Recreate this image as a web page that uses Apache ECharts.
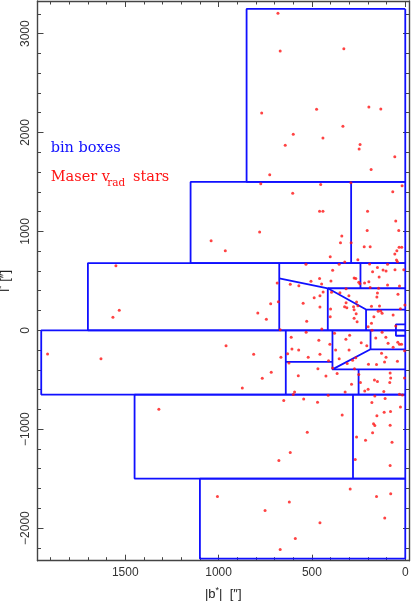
<!DOCTYPE html>
<html>
<head>
<meta charset="utf-8">
<script src="https://cdn.jsdelivr.net/npm/echarts@6/dist/echarts.min.js"></script>
<style>
  html, body { margin: 0; padding: 0; background: #fff; }
  #main { width: 411px; height: 602px; }
</style>
</head>
<body>
<div id="main"></div>
<script>
// maser stars, [|b*|, l*] in arcsec
var maserStars = [
  [682, 3205], [670, 2824], [329, 2848], [769, 2198], [475, 2235], [195, 2259], [131, 2238],
  [334, 2064], [600, 1983], [441, 1945], [643, 1872], [242, 1879], [247, 1834], [56, 1754],
  [183, 1626], [726, 1572], [774, 1481], [453, 1475], [291, 1491], [17, 1461], [67, 1400],
  [603, 1387], [459, 1205], [441, 1205], [202, 1205], [51, 1104], [780, 993], [204, 1010],
  [35, 1010], [340, 953], [1040, 905], [347, 885], [290, 885], [964, 804], [220, 844],
  [188, 844], [33, 841], [19, 841], [45, 804], [56, 771],
  [1550, 653], [1532, 202], [1566, 131], [1916, -239], [1630, -287], [1320, -798],
  [402, 743], [324, 690], [254, 713], [47, 710], [42, 693], [532, 667], [354, 667], [191, 670],
  [95, 667], [55, 612], [389, 606], [149, 636], [119, 609], [103, 599], [175, 592], [8, 612],
  [459, 525], [274, 528], [265, 525], [140, 538], [505, 495], [398, 498], [249, 485], [243, 471],
  [218, 478], [195, 491], [686, 478], [616, 465], [570, 451], [448, 468], [317, 420], [143, 424],
  [95, 458], [188, 434], [31, 447], [440, 387], [457, 349], [488, 329], [395, 384], [350, 380],
  [149, 377], [152, 336], [39, 364], [302, 349], [261, 286], [317, 279], [2, 256], [721, 269],
  [547, 273], [457, 235], [325, 238], [313, 228], [277, 238], [254, 248], [181, 242], [138, 245],
  [26, 218], [400, 215], [274, 208], [263, 168], [145, 192], [131, 195], [124, 172], [65, 155],
  [790, 175], [402, 137], [168, 137], [274, 121], [744, 111], [528, 91], [258, 87], [181, 71],
  [199, 36], [51, 43], [680, 289],
  [670, 6], [447, 13], [379, -30], [298, -51], [178, 0], [124, -20], [611, -71], [531, -20],
  [463, -101], [318, -91], [158, -78], [104, -71], [404, -141], [236, -125], [206, -156],
  [92, -131], [40, -121], [31, -141], [20, -141], [65, -172], [607, -189], [571, -199],
  [630, -236], [457, -242], [373, -199], [301, -199], [4, -206], [127, -232], [103, -273],
  [265, -277], [282, -303], [311, -337], [354, -287], [42, -313], [111, -320], [197, -343],
  [154, -347], [520, -273], [666, -273], [623, -330], [411, -307], [812, -242], [468, -388],
  [389, -381], [365, -438], [272, -388], [81, -431], [718, -424], [573, -459], [425, -462],
  [766, -485], [249, -448], [165, -502], [149, -519], [240, -529], [78, -482], [83, -529],
  [4, -482], [288, -545], [199, -596], [217, -613], [322, -623], [115, -620], [593, -623],
  [413, -657], [600, -650], [544, -694], [108, -691], [31, -646], [960, -156], [873, -583],
  [651, -711], [470, -727], [338, -856], [525, -1030], [616, -1236], [677, -1317], [163, -664],
  [179, -731], [26, -775], [152, -863], [113, -828], [79, -822], [170, -946], [163, -964],
  [81, -960], [175, -1037], [261, -1078], [213, -1111], [71, -1131], [268, -1307], [81, -1368],
  [15, -654],
  [295, -1606], [78, -1654], [154, -1681], [110, -1899], [1006, -1681], [621, -1737],
  [751, -1822], [457, -1946], [589, -2105], [670, -2216]
];

// bin box edges, each a polyline of [|b*|, l*] corners
var boxTop = [[0, 3250], [850, 3250], [850, 1500], [0, 1500]];
var boxRow2 = [[0, 1500], [1150, 1500], [1150, 680], [0, 680]];
var boxRow3 = [[0, 680], [1700, 680], [1700, 0], [0, 0]];
var boxRow4 = [[0, 0], [1950, 0], [1950, -650], [0, -650]];
var boxRow5 = [[0, -650], [1450, -650], [1450, -1500], [0, -1500]];
var boxRow6 = [[0, -1500], [1100, -1500], [1100, -2310], [0, -2310]];
var rightEdge = [[0, 3250], [0, -2310]];
var innerEdges = [
  [[290, 1500], [290, 680]],
  [[675, 680], [675, 0]],
  [[240, 680], [240, 425]],
  [[675, 525], [415, 425], [0, 425]],
  [[415, 425], [210, 210], [0, 210]],
  [[415, 425], [415, 0]],
  [[210, 210], [210, 0]],
  [[640, 0], [640, -650]],
  [[640, -320], [390, -320]],
  [[390, 0], [390, -395], [0, -395]],
  [[390, -395], [186, -192], [0, -192]],
  [[186, 0], [186, -192]],
  [[250, -395], [250, -650]],
  [[0, 60], [50, 60], [50, -55], [0, -55]],
  [[280, -650], [280, -1500]]
];

var tickFont = 'Liberation Sans';
var binColor = '#1010ff';
var starColor = '#ff1414';

var dom = document.getElementById('main');
var myChart = echarts.init(dom, null, { renderer: 'canvas' });

var polylines = [boxTop, boxRow2, boxRow3, boxRow4, boxRow5, boxRow6, rightEdge].concat(innerEdges);
var series = polylines.map(function (pts) {
  return {
    type: 'line',
    name: 'bin boxes',
    data: pts,
    symbol: 'none',
    silent: true,
    animation: false,
    lineStyle: { color: binColor, width: 1.8 }
  };
});
series.push({
  type: 'scatter',
  name: 'Maser stars',
  data: maserStars,
  symbol: 'circle',
  symbolSize: 3,
  itemStyle: { color: starColor },
  animation: false,
  z: 5
});

function plainNum(v) {
  return v < 0 ? '\u2212' + Math.abs(v) : String(v);
}

var axisCommon = {
  type: 'value',
  splitLine: { show: false },
  axisLine: { show: true, onZero: false, lineStyle: { color: '#444', width: 1.4 } },
  axisTick: { show: true, inside: true, length: 6, lineStyle: { color: '#444', width: 1 } },
  minorTick: { show: true, splitNumber: 5, length: 3.5, lineStyle: { color: '#444', width: 1 } }
};
var nameStyle = {
  fontSize: 13, color: '#222', fontFamily: tickFont,
  rich: { sup: { fontSize: 9, color: '#222', fontFamily: tickFont, padding: [0, 0, 8, 0] } }
};

var option = {
  animation: false,
  grid: { left: 37.5, right: 2, top: 1, bottom: 41.3, containLabel: false, outerBoundsMode: 'none' },
  xAxis: [
    Object.assign({}, axisCommon, {
      position: 'bottom',
      inverse: true,
      min: -20,
      max: 1970,
      splitNumber: 4,
      axisLabel: {
        showMinLabel: false, showMaxLabel: false, margin: 6,
        fontSize: 12, color: '#333', fontFamily: tickFont, formatter: plainNum
      },
      name: '|b{sup|*}|  [\u2033]',
      nameLocation: 'middle',
      nameGap: 25,
      nameTextStyle: nameStyle
    }),
    Object.assign({}, axisCommon, {
      position: 'top',
      inverse: true,
      min: -20,
      max: 1970,
      splitNumber: 4,
      axisLabel: { show: false }
    })
  ],
  yAxis: [
    Object.assign({}, axisCommon, {
      position: 'left',
      min: -2330,
      max: 3330,
      splitNumber: 6,
      axisLabel: {
        showMinLabel: false, showMaxLabel: false, rotate: 90, margin: 6,
        fontSize: 12, color: '#333', fontFamily: tickFont, formatter: plainNum
      },
      name: 'l{sup|*} [\u2033]',
      nameLocation: 'middle',
      nameGap: 23,
      nameTextStyle: nameStyle
    }),
    Object.assign({}, axisCommon, {
      position: 'right',
      min: -2330,
      max: 3330,
      splitNumber: 6,
      axisLabel: { show: false }
    })
  ],
  graphic: [
    { type: 'text', x: 50.7, y: 148, style: { text: 'bin boxes', fill: binColor, font: '14.5px "DejaVu Serif"', verticalAlign: 'middle' } },
    { type: 'text', x: 50.7, y: 177.7, style: { text: 'Maser v', fill: starColor, font: '14.5px "DejaVu Serif"', verticalAlign: 'middle' } },
    { type: 'text', x: 107.3, y: 183.7, style: { text: 'rad', fill: starColor, font: '10.5px "DejaVu Serif"', verticalAlign: 'middle' } },
    { type: 'text', x: 133, y: 177.7, style: { text: 'stars', fill: starColor, font: '14.5px "DejaVu Serif"', verticalAlign: 'middle' } }
  ],
  series: series
};

myChart.setOption(option);
window.addEventListener('resize', myChart.resize);
</script>
</body>
</html>
